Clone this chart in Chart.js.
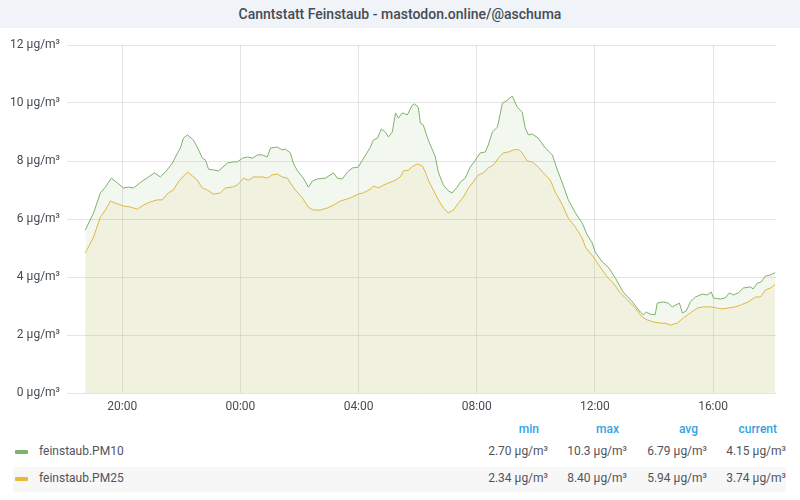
<!DOCTYPE html>
<html>
<head>
<meta charset="utf-8">
<script src="https://cdn.jsdelivr.net/npm/chart.js@4.4.1/dist/chart.umd.min.js"></script>
<style>
  html, body { margin: 0; padding: 0; background: #ffffff; }
  body { width: 800px; height: 500px; position: relative; overflow: hidden; font-family: Roboto, "Noto Sans", sans-serif; }
  #titlebar { position: absolute; left: 0; top: 0; width: 800px; height: 28px; background: #f0f3f8; z-index: 2; }
  #title { position: absolute; left: 0; top: 0; width: 800px; height: 28px; line-height: 28px; text-align: center; font-size: 14px; font-weight: 500; color: #464c54; }
  #wrap { position: absolute; left: 0; top: 0; width: 800px; height: 420px; z-index: 1; }
  .lg { position: absolute; font-size: 12px; color: #52545c; white-space: nowrap; }
  .hdr { position: absolute; font-size: 12px; font-weight: 500; color: #33a2e5; white-space: nowrap; }
  .sw { position: absolute; width: 13px; height: 4px; border-radius: 1px; }
  #row2bg { position: absolute; left: 13px; top: 467px; width: 773px; height: 25px; background: #f7f7f7; }
</style>
</head>
<body>
<div id="titlebar"><div id="title"></div></div>
<div id="wrap"><canvas id="c"></canvas></div>
<div id="row2bg"></div>
<div id="legend"></div>
<script>
const chartTitle = "Canntstatt Feinstaub - mastodon.online/@aschuma";
const seriesNames = ["feinstaub.PM10", "feinstaub.PM25"];
const seriesColors = ["#7eb26d", "#eab839"];
const unit = "µg/m³";

// x: hours relative to 00:00 (negative = previous evening)
const tickHours = [-4, 0, 4, 8, 12, 16];
const tickLabels = ["20:00", "00:00", "04:00", "08:00", "12:00", "16:00"];
const yTicks = [0, 2, 4, 6, 8, 10, 12];

const pm10Hours = [-5.25,-4.97,-4.74,-4.57,-4.37,-4.16,-3.96,-3.79,-3.62,-3.32,
  -3.11,-2.91,-2.71,-2.54,-2.30,-2.13,-2.03,-1.93,-1.79,-1.59,
  -1.46,-1.29,-1.18,-1.08,-0.91,-0.74,-0.44,-0.24,-0.10,0.07,
  0.24,0.41,0.58,0.74,0.91,1.02,1.25,1.42,1.52,1.69,
  1.79,1.93,2.13,2.30,2.44,2.61,2.88,3.15,3.28,3.45,
  3.62,3.79,3.99,4.13,4.30,4.40,4.50,4.64,4.77,4.91,
  5.01,5.14,5.25,5.35,5.48,5.65,5.82,5.89,6.02,6.09,
  6.19,6.36,6.60,6.70,6.87,7.04,7.17,7.34,7.45,7.61,
  7.78,7.95,8.12,8.29,8.39,8.53,8.70,8.87,9.04,9.20,
  9.37,9.54,9.64,9.75,9.88,10.08,10.32,10.56,10.73,10.90,
  11.10,11.34,11.57,11.74,11.91,12.01,12.25,12.45,12.69,12.96,
  13.27,13.54,13.64,13.74,13.87,14.04,14.11,14.31,14.48,14.62,
  14.86,14.96,15.09,15.23,15.40,15.63,15.80,15.94,16.01,16.24,
  16.41,16.55,16.68,16.85,17.02,17.26,17.36,17.50,17.63,17.77,
  17.94,18.10];
const pm10Values = [5.62,6.21,6.90,7.10,7.41,7.24,7.07,7.10,7.07,7.31,
  7.45,7.59,7.45,7.62,7.93,8.28,8.45,8.79,8.90,8.72,
  8.48,8.10,8.03,7.72,7.69,7.66,7.93,7.97,7.97,8.10,
  8.14,8.10,8.21,8.21,8.14,8.45,8.48,8.38,8.41,8.28,
  7.93,7.66,7.41,7.10,7.31,7.38,7.41,7.59,7.41,7.38,
  7.62,7.76,7.79,8.03,8.31,8.48,8.72,8.79,9.10,9.00,
  8.83,9.00,9.66,9.48,9.66,9.59,9.93,9.97,9.86,9.31,
  9.24,8.72,8.14,7.62,7.17,6.97,6.90,7.10,7.28,7.41,
  7.79,8.03,8.28,8.31,8.55,9.00,9.17,10.00,10.10,10.24,
  9.86,9.69,9.14,8.90,8.93,8.79,8.45,8.21,7.69,7.24,
  6.66,6.21,5.86,5.45,5.17,4.86,4.52,4.34,3.97,3.48,
  3.14,2.79,2.70,2.79,2.72,2.70,3.10,3.14,3.10,2.97,
  3.10,2.76,2.83,3.14,3.31,3.41,3.38,3.48,3.28,3.24,
  3.28,3.45,3.38,3.45,3.62,3.66,3.59,3.79,3.83,4.03,
  4.07,4.15];

const pm25Hours = [-5.25,-4.97,-4.74,-4.57,-4.40,-4.16,-3.96,-3.72,-3.49,-3.28,
  -3.05,-2.81,-2.64,-2.44,-2.27,-2.10,-1.93,-1.79,-1.62,-1.46,
  -1.29,-1.12,-0.91,-0.68,-0.51,-0.27,-0.10,0.10,0.27,0.44,
  0.61,0.74,0.91,1.08,1.25,1.42,1.59,1.69,1.86,2.10,
  2.30,2.47,2.71,2.94,3.15,3.38,3.62,3.79,3.99,4.16,
  4.40,4.50,4.67,4.84,5.01,5.25,5.41,5.52,5.69,5.85,
  5.99,6.16,6.26,6.36,6.53,6.70,6.87,7.04,7.21,7.38,
  7.55,7.72,7.88,8.05,8.22,8.39,8.56,8.73,8.90,9.07,
  9.24,9.41,9.54,9.71,9.88,10.08,10.32,10.49,10.66,10.90,
  11.10,11.34,11.57,11.68,11.95,12.18,12.42,12.62,12.86,13.10,
  13.37,13.60,13.77,13.98,14.21,14.38,14.55,14.79,14.99,15.23,
  15.47,15.67,15.91,16.14,16.31,16.51,16.75,16.92,17.19,17.43,
  17.60,17.77,17.94,18.10];
const pm25Values = [4.83,5.38,6.07,6.31,6.62,6.52,6.45,6.41,6.34,6.48,
  6.59,6.66,6.66,6.90,7.00,7.28,7.48,7.62,7.48,7.34,
  7.07,7.00,6.86,6.90,7.07,7.10,7.17,7.41,7.34,7.45,
  7.45,7.45,7.41,7.52,7.55,7.45,7.41,7.24,7.00,6.72,
  6.41,6.31,6.31,6.38,6.48,6.62,6.69,6.76,6.86,6.90,
  7.03,7.14,7.07,7.17,7.24,7.34,7.45,7.66,7.69,7.83,
  7.90,7.83,7.62,7.34,7.00,6.66,6.38,6.21,6.31,6.55,
  6.76,7.07,7.28,7.52,7.59,7.76,7.86,8.10,8.28,8.31,
  8.38,8.40,8.28,8.00,7.97,7.79,7.52,7.34,6.93,6.48,
  6.03,5.72,5.34,5.03,4.69,4.34,4.00,3.79,3.45,3.21,
  2.93,2.62,2.52,2.45,2.41,2.41,2.34,2.41,2.59,2.76,
  2.93,2.97,2.97,2.93,2.90,2.93,2.97,3.03,3.14,3.31,
  3.31,3.55,3.62,3.74];

const statHeaders = ["min", "max", "avg", "current"];
const pm10Stats = ["2.70 µg/m³", "10.3 µg/m³", "6.79 µg/m³", "4.15 µg/m³"];
const pm25Stats = ["2.34 µg/m³", "8.40 µg/m³", "5.94 µg/m³", "3.74 µg/m³"];

document.getElementById('title').textContent = chartTitle;

// legend table (HTML)
const legend = document.getElementById('legend');
const valueRight = [548, 627, 707, 786];
const headerRight = [539, 619, 698, 777];
const rowsY = [452, 479];
function addText(cls, text, style) {
  const d = document.createElement('div');
  d.className = cls; d.textContent = text;
  Object.assign(d.style, style); legend.appendChild(d); return d;
}
statHeaders.forEach((h, i) => addText('hdr', h, { right: (800 - headerRight[i]) + 'px', top: (430 - 8) + 'px' }));
[pm10Stats, pm25Stats].forEach((stats, r) => {
  const sw = document.createElement('div');
  sw.className = 'sw';
  Object.assign(sw.style, { left: '15px', top: (rowsY[r] - 2) + 'px', background: seriesColors[r] });
  legend.appendChild(sw);
  addText('lg', seriesNames[r], { left: '39px', top: (rowsY[r] - 8) + 'px' });
  stats.forEach((s, i) => addText('lg', s, { right: (800 - valueRight[i]) + 'px', top: (rowsY[r] - 8) + 'px' }));
});

function hexA(hex, a) {
  const n = parseInt(hex.slice(1), 16);
  return `rgba(${(n >> 16) & 255},${(n >> 8) & 255},${n & 255},${a})`;
}

const ctx = document.getElementById('c');
new Chart(ctx, {
  type: 'line',
  data: {
    datasets: [
      {
        label: seriesNames[0],
        data: pm10Hours.map((h, i) => ({ x: h, y: pm10Values[i] })),
        borderColor: seriesColors[0],
        backgroundColor: hexA(seriesColors[0], 0.1),
        borderWidth: 1, pointRadius: 0, tension: 0, fill: 'origin'
      },
      {
        label: seriesNames[1],
        data: pm25Hours.map((h, i) => ({ x: h, y: pm25Values[i] })),
        borderColor: seriesColors[1],
        backgroundColor: hexA(seriesColors[1], 0.1),
        borderWidth: 1, pointRadius: 0, tension: 0, fill: 'origin'
      }
    ]
  },
  options: {
    responsive: true,
    maintainAspectRatio: false,
    animation: false,
    layout: { padding: { top: 45, left: 0, right: 24, bottom: 0 } },
    plugins: { legend: { display: false }, tooltip: { enabled: false } },
    scales: {
      x: {
        type: 'linear',
        min: -5.87, max: 18.13,
        afterBuildTicks: (scale) => { scale.ticks = tickHours.map(v => ({ value: v })); },
        afterFit: (scale) => { scale.height = 27; },
        ticks: {
          autoSkip: false, maxRotation: 0, padding: 7,
          color: '#464c54', font: { family: 'Roboto', size: 12 },
          callback: (v) => { const i = tickHours.indexOf(v); return i >= 0 ? tickLabels[i] : ''; }
        },
        grid: { color: 'rgba(0,0,0,0.1)', drawTicks: false },
        border: { display: false }
      },
      y: {
        min: 0, max: 12,
        afterBuildTicks: (scale) => { scale.ticks = yTicks.map(v => ({ value: v })); },
        afterFit: (scale) => { scale.width = 67; },
        ticks: {
          padding: 7, color: '#464c54', font: { family: 'Roboto', size: 12 },
          callback: (v) => v + ' ' + unit
        },
        grid: { color: 'rgba(0,0,0,0.1)', drawTicks: false },
        border: { display: false }
      }
    }
  }
});
</script>
</body>
</html>
